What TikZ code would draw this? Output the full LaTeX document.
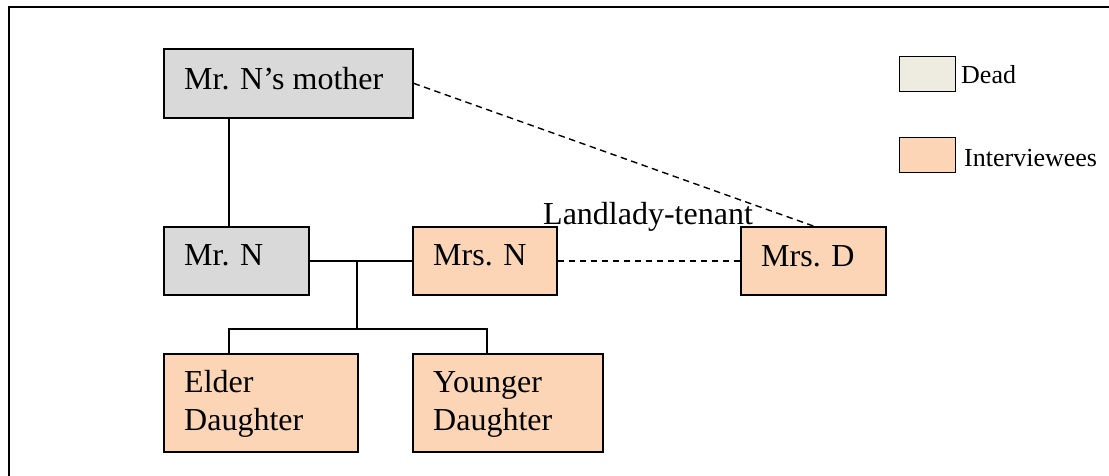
\documentclass[tikz,border=0pt]{standalone}
\usepackage{fontspec}
\setmainfont{Liberation Serif}
\usetikzlibrary{calc}
\definecolor{deadgray}{HTML}{D9D9D9}
\definecolor{peach}{HTML}{FBD5B5}
\definecolor{legdead}{HTML}{EEECE1}
\tikzset{
  box/.style={draw=black, line width=1.6pt, inner sep=0pt, anchor=north west},
  deadbox/.style={box, fill=deadgray},
  intbox/.style={box, fill=peach},
  lbl/.style={anchor=base west, inner sep=0pt, font=\fontsize{32}{38}\selectfont, align=left},
  leglbl/.style={anchor=base west, inner sep=0pt, font=\fontsize{26}{30}\selectfont},
  conn/.style={draw=black, line width=1.4pt},
  dashconn/.style={draw=black, line width=1.4pt, dash pattern=on 6.5pt off 4.5pt}
}
\begin{document}
\begin{tikzpicture}[x=1pt, y=-1pt]
\useasboundingbox (0,0) rectangle (1109,475);
\draw[line width=2pt] (9,476) -- (9,6.5) -- (1110,6.5);

% boxes
\node[deadbox, minimum width=249pt, minimum height=69pt] (mother) at (163,48) {};
\node[deadbox, minimum width=145pt, minimum height=68pt] (mrn) at (163,226) {};
\node[intbox, minimum width=144pt, minimum height=68pt] (mrsn) at (412,226) {};
\node[intbox, minimum width=145pt, minimum height=68pt] (mrsd) at (740,226) {};
\node[intbox, minimum width=194pt, minimum height=98pt] (elder) at (163,353) {};
\node[intbox, minimum width=190pt, minimum height=98pt] (younger) at (412,353) {};

% texts
\node[lbl] (mothert) at ($(mother.north west)+(21,41)$) {Mr. N’s mother};
\node[lbl] (mrnt) at ($(mrn.north west)+(21,39)$) {Mr. N};
\node[lbl] (mrsnt) at ($(mrsn.north west)+(21,39)$) {Mrs. N};
\node[lbl] (mrsdt) at ($(mrsd.north west)+(21,40)$) {Mrs. D};
\node[lbl] (eldert) at ($(elder.north west)+(21,77)$) {Elder\\Daughter};
\node[lbl] (youngert) at ($(younger.north west)+(21,77)$) {Younger\\Daughter};

% legend
\node[box, fill=legdead, line width=1.2pt, minimum width=56pt, minimum height=35pt] (legd) at (899,56) {};
\node[box, fill=peach, line width=1.2pt, minimum width=56pt, minimum height=35pt] (legi) at (899,137) {};
\node[leglbl] (legdt) at (961,83) {Dead};
\node[leglbl] (legit) at (964,166) {Interviewees};

% connectors
\draw[conn] ($(mother.south west)+(66,0)$) -- ($(mrn.north west)+(66,0)$);
\draw[conn] (mrn.east) -- (mrsn.west);
\coordinate (j) at (357,260);
\coordinate (k) at (357,329);
\draw[conn] (j) -- (k);
\draw[conn] ($(elder.north west)+(66,0)$) |- (k) -| ($(younger.north west)+(75,0)$);

\draw[dashconn] (mrsn.east) -- (mrsd.west);
\draw[dashconn] (mother.east) -- (mrsd.north);
\node[lbl] (ll) at (543,224) {Landlady-tenant};
\end{tikzpicture}
\end{document}
